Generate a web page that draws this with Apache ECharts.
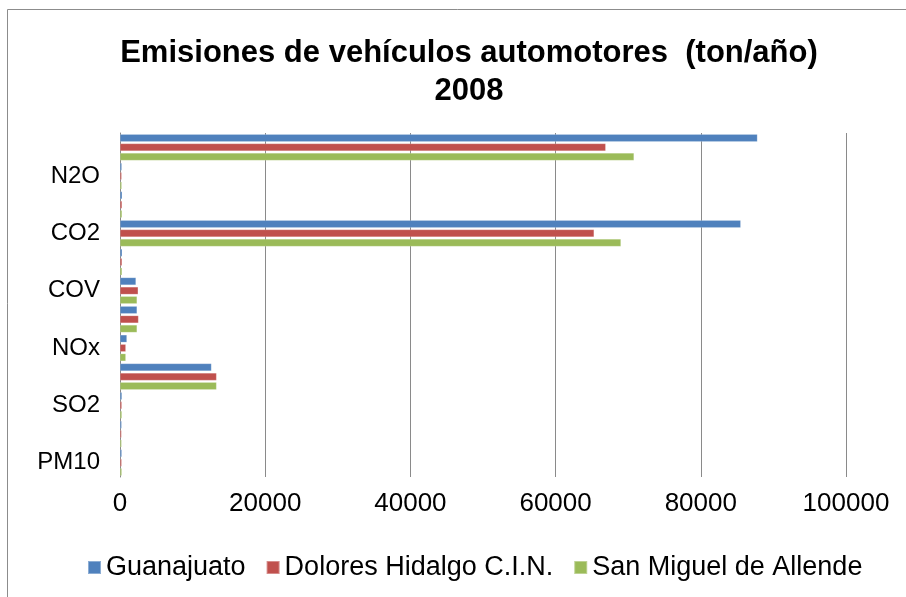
<!DOCTYPE html>
<html>
<head>
<meta charset="utf-8">
<title>Emisiones de vehículos automotores</title>
<script src="https://cdn.jsdelivr.net/npm/echarts@6/dist/echarts.min.js"></script>
<style>
  html, body { margin: 0; padding: 0; background: #ffffff; }
  #chart { width: 906px; height: 597px; }
</style>
</head>
<body>
<div id="chart"></div>
<script>
// categorias (de abajo hacia arriba); solo se muestran una sí y una no
const categorias = ['PM10', 'PM2.5', 'SO2', 'CO', 'NOx', 'COT', 'COV', 'NH3', 'CO2', 'CH4', 'N2O', 'CO2 eq'];

const guanajuato = [250, 230, 270, 12600, 950, 2350, 2200, 300, 85500, 300, 250, 87800];
const doloresHidalgo = [230, 210, 250, 13300, 800, 2550, 2500, 280, 65300, 280, 230, 66900];
const sanMiguel = [250, 220, 260, 13300, 800, 2350, 2350, 280, 69000, 280, 240, 70800];

const nombresSeries = ['Guanajuato', 'Dolores Hidalgo C.I.N.', 'San Miguel de Allende'];
const ejeX = {min: 0, max: 100000, interval: 20000};

const fuente = '"Liberation Sans", Arial, sans-serif';

function serie(nombre, datos, color) {
  return {
    name: nombre,
    type: 'bar',
    data: datos,
    barWidth: 7.5,
    barGap: '25%',
    itemStyle: {color: color, borderColor: 'rgba(255,255,255,0.35)', borderWidth: 0.5},
    animation: false
  };
}

const option = {
  backgroundColor: '#ffffff',
  textStyle: {fontFamily: fuente},
  title: {
    text: 'Emisiones de vehículos automotores  (ton/año)\n2008',
    left: 464,
    top: 29,
    textAlign: 'center',
    textStyle: {
      fontFamily: fuente,
      fontSize: 31,
      fontWeight: 'bold',
      color: '#000000',
      lineHeight: 38
    }
  },
  legend: {
    data: nombresSeries,
    left: 82,
    top: 549,
    icon: 'rect',
    itemWidth: 13,
    itemHeight: 13,
    itemGap: 20,
    textStyle: {fontFamily: fuente, fontSize: 27, color: '#000000'}
  },
  grid: {left: 120, right: 60, top: 133, height: 344},
  xAxis: {
    type: 'value',
    min: ejeX.min,
    max: ejeX.max,
    interval: ejeX.interval,
    axisLine: {show: false},
    axisTick: {show: false},
    splitLine: {lineStyle: {color: '#8a8a8a', width: 1}},
    axisLabel: {
      fontFamily: fuente, fontSize: 26, color: '#000000', margin: 14,
      formatter: (v) => String(v)
    }
  },
  yAxis: {
    type: 'category',
    data: categorias,
    axisLine: {lineStyle: {color: '#8a8a8a', width: 1}},
    axisTick: {show: false},
    axisLabel: {interval: 1, fontFamily: fuente, fontSize: 24, color: '#000000', margin: 20}
  },
  graphic: [{
    type: 'rect',
    left: 5,
    top: 7,
    shape: {width: 920, height: 620},
    style: {fill: 'none', stroke: '#8c8c8c', lineWidth: 1},
    silent: true
  }],
  series: [
    serie(nombresSeries[0], guanajuato, '#4F81BD'),
    serie(nombresSeries[1], doloresHidalgo, '#C0504D'),
    serie(nombresSeries[2], sanMiguel, '#9BBB59')
  ]
};

const chart = echarts.init(document.getElementById('chart'));
chart.setOption(option);
window.addEventListener('resize', () => {
  chart.resize();
});
</script>
</body>
</html>
